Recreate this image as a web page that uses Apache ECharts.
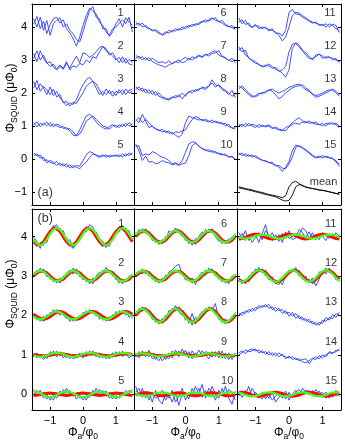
<!DOCTYPE html>
<html>
<head>
<meta charset="utf-8">
<script src="https://cdn.jsdelivr.net/npm/echarts@6/dist/echarts.min.js"></script>
<style>
html,body{margin:0;padding:0;background:#fff}
#main{width:345px;height:447px}
</style>
</head>
<body>
<div id="main"></div>
<script>
// applied flux Phi_a/phi_0, sample points
var phi = [-1.5,-1.4,-1.3,-1.2,-1.1,-1.0,-0.9,-0.8,-0.7,-0.6,-0.5,-0.4,-0.3,-0.2,-0.1,0,
           0.1,0.2,0.3,0.4,0.5,0.6,0.7,0.8,0.9,1.0,1.1,1.2,1.3,1.4,1.5];

// (a) raw traces, deviation from offset in 0.01 muPhi0, sweep up / sweep down
var topUp = [
 [10,32,-5,18,-20,8,25,30,12,22,-5,-18,-35,-58,-30,5,35,58,48,40,15,5,-15,-25,-5,0,12,22,10,30,-15],
 [20,-5,28,5,-10,-5,-22,-30,-20,-28,-10,-25,-5,12,-8,22,18,8,15,25,38,42,28,22,12,0,8,-8,5,-12,-15],
 [35,10,28,15,-5,18,-8,5,-15,-25,-38,-30,-35,-20,5,25,40,48,35,15,-5,5,-5,8,-10,5,0,10,-5,8,12],
 [5,12,-2,8,0,10,-3,5,2,-8,-5,-15,-28,-30,-12,10,30,36,25,12,2,-5,-10,-2,5,-5,3,-2,8,0,5],
 [18,8,12,-5,-3,-10,-15,-8,-20,-15,-25,-18,-28,-20,-22,-5,12,22,18,10,5,8,12,5,10,8,12,6,15,10,18],
 [15,5,12,0,-5,-8,-12,-20,-22,-15,-18,-10,-12,-5,-8,2,0,8,5,12,18,15,22,28,20,18,12,5,0,5,-8],
 [15,5,10,0,8,-5,-10,-15,-18,-22,-15,-10,-5,-8,2,8,0,10,5,12,8,15,18,25,28,15,10,8,-2,5,-8],
 [20,8,15,0,10,-5,5,-10,-15,-20,-18,-12,-15,-5,-18,-5,2,8,5,12,15,10,20,40,25,22,10,5,-5,8,-15],
 [20,10,35,15,-5,0,-10,-12,-18,-15,-22,-20,-28,-35,-25,10,30,25,22,18,20,15,12,18,10,12,5,8,-2,-5,-10],
 [45,25,-5,8,-10,-8,-15,-12,-5,-10,-12,-18,-15,-20,-15,-13,10,40,48,40,30,28,22,25,18,17,15,10,8,5,0],
 [28,10,20,5,0,8,-5,0,-3,-8,-10,-15,-25,-42,-30,0,35,45,42,35,28,20,15,12,8,5,10,0,8,5,-17],
 [40,25,30,5,0,-5,-15,-18,-20,-12,-20,-28,-32,-40,-52,-30,35,53,45,30,22,10,0,15,18,5,10,8,5,0,-5],
 [20,15,5,-5,-13,-8,0,-3,5,8,12,5,0,5,10,17,20,25,27,18,10,5,-2,-8,-5,0,5,10,8,0,-10],
 [0,5,-3,8,0,-5,5,-2,0,3,-5,-8,-12,-15,-5,0,10,18,25,15,12,8,10,5,5,0,8,5,10,3,-5],
 [17,10,15,8,12,5,0,-3,-8,-10,-15,-18,-25,-38,-25,-8,25,42,38,32,25,17,8,3,5,10,5,3,0,-5,-23]
];
var topDown = [
 [25,0,30,-10,20,-25,10,20,28,0,10,-10,-20,-38,-45,-15,20,50,62,30,25,-5,-5,-28,-15,10,25,0,28,15,5],
 [5,28,0,15,-8,-20,-12,-28,-15,-25,-5,-30,-18,-22,-10,-15,0,-8,10,5,25,40,35,15,22,5,-8,10,-10,2,-8],
 [15,38,5,20,10,-5,12,-12,-5,-30,-25,-40,-28,-32,-15,0,20,30,35,28,10,-8,12,-2,5,-8,10,-5,12,0,5],
 [10,-3,8,3,12,-2,6,0,-5,-2,-10,-8,-18,-30,-25,-8,15,22,30,20,10,0,-3,-10,0,2,-5,6,-2,10,2],
 [10,15,2,5,-12,-5,-10,-20,-12,-22,-15,-28,-20,-25,-30,-18,-10,5,15,12,8,12,5,10,8,12,6,15,8,18,12],
 [8,12,0,5,-3,-12,-8,-15,-25,-20,-10,-15,-5,-10,0,-5,5,2,10,8,15,22,18,25,28,15,20,8,3,-2,-5],
 [5,12,0,8,-3,5,-2,-8,-5,-10,-2,-12,-5,0,-8,-5,5,0,8,15,10,18,12,20,22,28,12,5,0,-5,2],
 [10,18,5,12,-2,8,-8,0,-12,-15,-22,-15,-8,-12,0,-10,5,0,10,8,18,15,22,30,18,25,15,8,0,-10,-5],
 [15,25,10,20,10,-2,-8,-15,-10,-20,-15,-25,-18,-20,-15,-12,5,20,28,25,15,20,15,10,15,8,10,0,5,-8,-5],
 [38,40,10,15,12,22,18,10,5,2,-5,-15,-12,-18,-5,20,45,52,50,38,32,25,28,20,22,15,12,15,5,8,-2],
 [15,22,8,12,-2,5,2,-5,0,-12,-5,-20,-18,-27,-10,45,53,40,38,30,25,18,12,15,5,8,0,10,5,-5,-10],
 [30,38,15,8,-2,-10,-12,-22,-15,-18,-25,-22,-35,-30,-20,25,48,50,40,28,15,5,5,10,18,12,5,10,0,5,-8],
 [12,22,10,0,-8,-12,-5,2,0,10,5,-5,-18,-10,0,8,15,20,22,25,15,8,-5,-13,-10,-5,0,5,12,5,-5],
 [5,-2,8,0,5,2,-5,3,-3,0,-8,-3,-10,-12,-15,-3,5,8,5,12,10,15,8,12,3,8,0,10,5,8,0],
 [12,18,8,12,5,10,2,-5,-5,-12,-10,-22,-20,-28,-30,-15,5,35,40,35,28,20,12,5,8,3,8,5,2,-10,-15]
];
var meanUp = [12,10,8,5,3,0,-2,-5,-8,-10,-13,-15,-20,-25,-28,-26,-10,15,22,20,15,12,10,8,6,4,3,0,-2,-5,-8];
var meanDown = [15,13,10,8,6,3,0,-2,-5,-8,-10,-12,-15,-18,-12,15,28,32,25,18,14,12,10,8,5,5,2,0,-3,-5,-6];

// (b) processed traces and fits, 0.01 muPhi0
var botUp = [
 [-2,-12,-30,-10,-15,12,25,30,10,15,-12,-8,-28,-20,0,15,12,30,25,0,-15,-25,-15,-25,0,15,25,18,22,0,-5],
 [10,5,20,8,10,-8,-5,-18,-5,-10,8,15,5,18,-2,0,-15,-8,-20,0,10,5,22,8,10,-10,-5,-20,-8,-12,5],
 [5,-12,-5,-15,2,-5,15,5,12,0,-8,-2,-15,-5,-8,8,2,15,5,10,-10,-2,-15,-3,-10,10,2,12,0,8,-8],
 [-5,5,-8,0,-10,8,0,10,-2,5,-8,2,-10,-5,5,-8,8,0,10,-5,3,-8,0,-10,5,-2,8,-5,6,-8,0],
 [12,-5,10,-10,0,-15,-2,-10,8,-2,15,0,5,-12,-2,-15,-5,-8,10,0,12,2,8,-10,0,-12,-5,5,-2,10,5],
 [10,5,20,8,12,-10,-5,-20,-8,-12,15,8,22,10,0,-2,-18,-8,-20,0,12,5,18,15,0,-12,-8,-18,-5,-12,8],
 [10,2,18,5,12,-8,-2,-18,-5,-10,10,15,25,30,5,-5,-12,-5,-22,0,10,2,20,12,5,-8,-2,-18,-10,-12,5],
 [12,5,22,10,8,-10,-5,-22,-8,-12,12,10,25,8,0,-2,-20,5,-22,-2,10,8,22,15,30,-10,-8,-22,-10,-12,8],
 [5,-8,10,-5,12,-10,-5,-15,0,-12,5,-8,12,-5,15,-3,8,-10,5,-5,10,0,-10,8,-5,10,-8,5,-12,0,-5],
 [20,-5,15,-10,5,-20,10,-15,-25,5,-10,10,-20,-5,15,-15,5,-5,20,0,25,-10,15,5,-15,10,-5,20,-10,-25,8],
 [10,-5,15,-10,0,5,-15,8,30,-5,10,-8,5,-15,12,-5,0,8,5,22,15,-5,10,-8,5,0,-10,8,-5,10,0],
 [-5,-20,-8,-15,10,5,22,8,15,-10,-2,-20,-10,-22,0,5,18,10,15,-8,0,-18,-5,-25,-8,15,5,20,5,-2,-15],
 [0,8,5,15,10,20,18,25,22,28,15,20,12,15,5,8,-2,5,-8,-5,-15,-10,-22,-18,-25,-12,-15,-5,-8,5,0],
 [5,10,3,12,15,10,12,5,8,0,5,-3,5,-2,-5,-8,-5,-12,-10,-18,-20,-15,-8,-12,-2,-8,0,5,3,12,10],
 [5,-8,10,-5,15,0,-10,5,-12,0,-15,-5,5,-10,8,-15,0,10,-5,15,5,-2,10,-5,8,-8,5,-10,2,-5,0]
];
var botDown = [
 [-10,-25,-15,-22,0,5,28,15,22,2,-2,-22,-30,-12,-10,12,25,18,10,12,-5,-12,-28,-12,-10,10,12,28,12,15,-12],
 [0,15,8,18,-2,2,-15,-8,-18,0,0,8,20,5,8,-10,-5,-20,-5,-8,-2,15,8,15,0,-2,-18,-8,-15,0,-2],
 [-8,0,-15,-2,-8,8,2,15,0,10,2,-15,-5,-12,0,-2,12,5,14,-2,5,-12,-8,-12,2,0,12,5,14,-5,2],
 [3,-8,2,-12,0,-3,10,-5,8,-8,2,-10,0,-8,-3,5,-5,10,2,5,-8,2,-10,-2,-6,8,-3,10,-2,5,-6],
 [0,10,-5,5,-12,-5,-15,2,-5,12,2,10,-5,2,-10,-5,-15,5,-3,15,0,10,-5,0,-12,-3,-10,-2,10,2,12],
 [0,18,8,20,2,-2,-15,-10,-18,0,2,15,10,18,8,-10,-5,-22,-5,-8,0,18,10,20,8,-5,-18,-10,-15,0,2],
 [-2,12,5,15,0,0,-15,-8,-15,2,0,10,15,10,10,-10,-8,-18,-8,-5,-2,15,10,18,0,-2,-15,-8,-20,0,-5],
 [0,18,10,20,2,0,-18,-10,-20,0,0,18,12,22,8,-12,-5,-25,-5,-10,2,18,12,20,5,-5,-18,-8,-18,-2,2],
 [-5,8,-3,8,-5,2,-12,0,-15,-5,-10,10,0,10,-2,12,-8,10,-5,12,-2,8,5,-6,8,-8,10,-10,5,-12,5],
 [5,15,-8,8,-15,5,-10,-5,10,-15,0,-20,5,-28,0,5,-12,15,-5,15,-8,10,-5,20,0,-10,15,-8,12,5,-15],
 [-5,8,-10,5,-15,-2,10,-8,15,5,-10,5,-12,8,-5,15,-8,-3,18,10,-2,12,-5,5,-8,10,3,-5,8,-8,5],
 [-15,-10,-20,0,0,18,12,18,0,2,-12,-18,-22,-8,5,15,12,22,0,0,-15,-8,-20,-12,10,10,20,8,10,-10,-8],
 [5,0,12,8,18,12,25,20,28,18,22,10,18,5,12,-2,8,-8,0,-12,-8,-18,-15,-25,-18,-20,-5,-12,2,-5,8],
 [0,5,12,8,10,15,5,10,2,8,-2,5,-5,2,-10,-3,-12,-8,-15,-12,-10,-22,-12,-5,-10,0,-5,8,5,8,15],
 [-5,8,-2,20,-8,5,-5,-12,2,-10,5,-20,-8,2,-12,5,-8,5,12,0,10,8,-5,12,0,5,-10,2,-8,10,-5]
];
var fitGreen = [
 [-7,-18,-22,-18,-7,7,18,22,18,7,-7,-18,-22,-18,-7,7,18,22,18,7,-7,-18,-22,-18,-7,7,18,22,18,7,-7],
 [4,11,13,11,4,-4,-11,-13,-11,-4,4,11,13,11,4,-4,-11,-13,-11,-4,4,11,13,11,4,-4,-11,-13,-11,-4,4],
 [-3,-8,-10,-8,-3,3,8,10,8,3,-3,-8,-10,-8,-3,3,8,10,8,3,-3,-8,-10,-8,-3,3,8,10,8,3,-3],
 [-2,-4,-5,-4,-2,2,4,5,4,2,-2,-4,-5,-4,-2,2,4,5,4,2,-2,-4,-5,-4,-2,2,4,5,4,2,-2],
 [7,6,2,-2,-6,-7,-6,-2,2,6,7,6,2,-2,-6,-7,-6,-2,2,6,7,6,2,-2,-6,-7,-6,-2,2,6,7],
 [5,12,15,12,5,-5,-12,-15,-12,-5,5,12,15,12,5,-5,-12,-15,-12,-5,5,12,15,12,5,-5,-12,-15,-12,-5,5],
 [4,11,13,11,4,-4,-11,-13,-11,-4,4,11,13,11,4,-4,-11,-13,-11,-4,4,11,13,11,4,-4,-11,-13,-11,-4,4],
 [5,14,17,14,5,-5,-14,-17,-14,-5,5,14,17,14,5,-5,-14,-17,-14,-5,5,14,17,14,5,-5,-14,-17,-14,-5,5],
 [1,3,4,3,1,-1,-3,-4,-3,-1,1,3,4,3,1,-1,-3,-4,-3,-1,1,3,4,3,1,-1,-3,-4,-3,-1,1],
 [2,-2,-4,-5,-4,-2,2,4,5,4,2,-2,-4,-5,-4,-2,2,4,5,4,2,-2,-4,-5,-4,-2,2,4,5,4,2],
 [-2,-4,-5,-4,-2,2,4,5,4,2,-2,-4,-5,-4,-2,2,4,5,4,2,-2,-4,-5,-4,-2,2,4,5,4,2,-2],
 [-12,-15,-12,-5,5,12,15,12,5,-5,-12,-15,-12,-5,5,12,15,12,5,-5,-12,-15,-12,-5,5,12,15,12,5,-5,-12],
 null,
 null,
 [4,2,-2,-4,-5,-4,-2,2,4,5,4,2,-2,-4,-5,-4,-2,2,4,5,4,2,-2,-4,-5,-4,-2,2,4,5,4]
];
var fitRed = [
 [-13,-21,-21,-13,0,13,21,21,13,0,-13,-21,-21,-13,0,13,21,21,13,0,-13,-21,-21,-13,0,13,21,21,13,0,-13],
 [0,8,12,12,8,0,-8,-12,-12,-8,0,8,12,12,8,0,-8,-12,-12,-8,0,8,12,12,8,0,-8,-12,-12,-8,0],
 [3,-3,-8,-10,-8,-3,3,8,10,8,3,-3,-8,-10,-8,-3,3,8,10,8,3,-3,-8,-10,-8,-3,3,8,10,8,3],
 [1,-1,-2,-3,-2,-1,1,2,3,2,1,-1,-2,-3,-2,-1,1,2,3,2,1,-1,-2,-3,-2,-1,1,2,3,2,1],
 [-3,-2,-1,1,2,3,2,1,-1,-2,-3,-2,-1,1,2,3,2,1,-1,-2,-3,-2,-1,1,2,3,2,1,-1,-2,-3],
 [0,9,14,14,9,0,-9,-14,-14,-9,0,9,14,14,9,0,-9,-14,-14,-9,0,9,14,14,9,0,-9,-14,-14,-9,0],
 [0,8,12,12,8,0,-8,-12,-12,-8,0,8,12,12,8,0,-8,-12,-12,-8,0,8,12,12,8,0,-8,-12,-12,-8,0],
 [0,10,16,16,10,0,-10,-16,-16,-10,0,10,16,16,10,0,-10,-16,-16,-10,0,10,16,16,10,0,-10,-16,-16,-10,0],
 [-1,1,2,3,2,1,-1,-2,-3,-2,-1,1,2,3,2,1,-1,-2,-3,-2,-1,1,2,3,2,1,-1,-2,-3,-2,-1],
 [-1,1,3,4,3,1,-1,-3,-4,-3,-1,1,3,4,3,1,-1,-3,-4,-3,-1,1,3,4,3,1,-1,-3,-4,-3,-1],
 [-6,-5,-2,2,5,6,5,2,-2,-5,-6,-5,-2,2,5,6,5,2,-2,-5,-6,-5,-2,2,5,6,5,2,-2,-5,-6],
 [-9,-14,-14,-9,0,9,14,14,9,0,-9,-14,-14,-9,0,9,14,14,9,0,-9,-14,-14,-9,0,9,14,14,9,0,-9],
 null,
 null,
 [4,5,4,2,-2,-4,-5,-4,-2,2,4,5,4,2,-2,-4,-5,-4,-2,2,4,5,4,2,-2,-4,-5,-4,-2,2,4]
];

var traceNames = ['1','2','3','4','5','6','7','8','9','10','11','12','13','14','15'];
var offsets = [4,3,2,1,0];
var xTicks = [-1,0,1];
var topTicks = [-1,0,1,2,3,4];
var botTicks = [0,1,2,3,4];

var FONT = 'Liberation Sans';
var BLUE = '#2f3cff', RED = '#ff0a0a', GREEN = '#44ff10';

var chart = echarts.init(document.getElementById('main'));

var gridLeft = [32, 134, 237];
var gridWidth = [102, 103, 104];
var grids = [], xAxes = [], yAxes = [], series = [];

function fmt(v) { return String(v).replace('-', '\u2212'); }

function pts(vals, base) {
  return phi.map(function (x, i) { return [x, base + vals[i] / 100]; });
}

function line(g, data, color, width, z) {
  series.push({
    type: 'line', xAxisIndex: 2 * g, yAxisIndex: 2 * g, data: data,
    showSymbol: false, silent: true, z: z,
    lineStyle: { color: color, width: width }
  });
}

for (var p = 0; p < 2; p++) {
  for (var c = 0; c < 3; c++) {
    var g = p * 3 + c;
    grids.push({ left: gridLeft[c], width: gridWidth[c], top: p ? 209 : 4, height: 201 });
    var bottomLabels = (p === 1);
    [['bottom', bottomLabels], ['top', false]].forEach(function (d) {
      xAxes.push({
        type: 'value', gridIndex: g, position: d[0], min: -1.55, max: 1.55,
        axisLine: { show: true, onZero: false, lineStyle: { color: '#000', width: 1 } },
        axisTick: { show: true, inside: true, length: 3, customValues: xTicks, lineStyle: { color: '#000' } },
        axisLabel: { show: d[1], customValues: xTicks, formatter: fmt, fontSize: 11, color: '#000', margin: 5, fontFamily: FONT },
        splitLine: { show: false }
      });
    });
    var yt = p ? botTicks : topTicks;
    [['left', c === 0], ['right', false]].forEach(function (d) {
      yAxes.push({
        type: 'value', gridIndex: g, position: d[0],
        min: p ? -0.4 : -1.4, max: 4.7,
        axisLine: { show: true, onZero: false, lineStyle: { color: '#000', width: 1 } },
        axisTick: { show: true, inside: true, length: 3, customValues: yt, lineStyle: { color: '#000' } },
        axisLabel: { show: d[1], customValues: yt, formatter: fmt, fontSize: 11, color: '#000', margin: 5, fontFamily: FONT },
        splitLine: { show: false }
      });
    });

    var labels = [];
    for (var r = 0; r < 5; r++) {
      var k = c * 5 + r;
      var base = offsets[r];
      if (p === 0) {
        line(g, pts(topUp[k], base), BLUE, 0.9, 2);
        line(g, pts(topDown[k], base), BLUE, 0.9, 2);
        labels.push({ value: [1.05, base + 0.43], name: traceNames[k] });
      } else {
        line(g, pts(botUp[k], base), BLUE, 0.9, 2);
        line(g, pts(botDown[k], base), BLUE, 0.9, 2);
        if (fitRed[k]) line(g, pts(fitRed[k], base), RED, 3, 3);
        if (fitGreen[k]) line(g, pts(fitGreen[k], base), GREEN, 2.2, 4);
        labels.push({ value: [1.07, base + 0.33], name: traceNames[k] });
      }
    }
    if (p === 0 && c === 2) {
      line(g, pts(meanUp, -1), '#000', 0.9, 2);
      line(g, pts(meanDown, -1), '#000', 0.9, 2);
      labels.push({ value: [0.62, -0.7], name: 'mean' });
    }
    if (c === 0) {
      labels.push({ value: [-1.38, p ? 4.47 : -1.03], name: p ? '(b)' : '(a)', label: { fontSize: 12.5 } });
    }
    series.push({
      type: 'scatter', xAxisIndex: 2 * g, yAxisIndex: 2 * g, symbolSize: 0, silent: true, z: 6,
      data: labels,
      label: { show: true, formatter: '{b}', position: [0, 0], align: 'left', verticalAlign: 'middle',
               fontSize: 11, color: '#000', fontFamily: FONT }
    });
  }
}

var rich = {
  n: { fontSize: 12, fontFamily: FONT, color: '#000', lineHeight: 16 },
  s: { fontSize: 8.5, fontFamily: FONT, color: '#000', lineHeight: 7, verticalAlign: 'bottom' }
};
var yTitle = '{n|\u03A6}{s|SQUID}{n| (\u03BC\u03A6}{s|0}{n|)}';
var xTitle = '{n|\u03A6}{s|a}{n|/\u03C6}{s|0}';
var graphics = [
  { type: 'text', x: 11, y: 98, rotation: Math.PI / 2, style: { text: yTitle, rich: rich, align: 'center', verticalAlign: 'middle' } },
  { type: 'text', x: 11, y: 294, rotation: Math.PI / 2, style: { text: yTitle, rich: rich, align: 'center', verticalAlign: 'middle' } }
];
[83, 185.5, 289].forEach(function (cx) {
  graphics.push({ type: 'text', x: cx, y: 433, style: { text: xTitle, rich: rich, align: 'center', verticalAlign: 'middle' } });
});

chart.setOption({
  animation: false,
  grid: grids,
  xAxis: xAxes,
  yAxis: yAxes,
  graphic: graphics,
  series: series
});
</script>
</body>
</html>
